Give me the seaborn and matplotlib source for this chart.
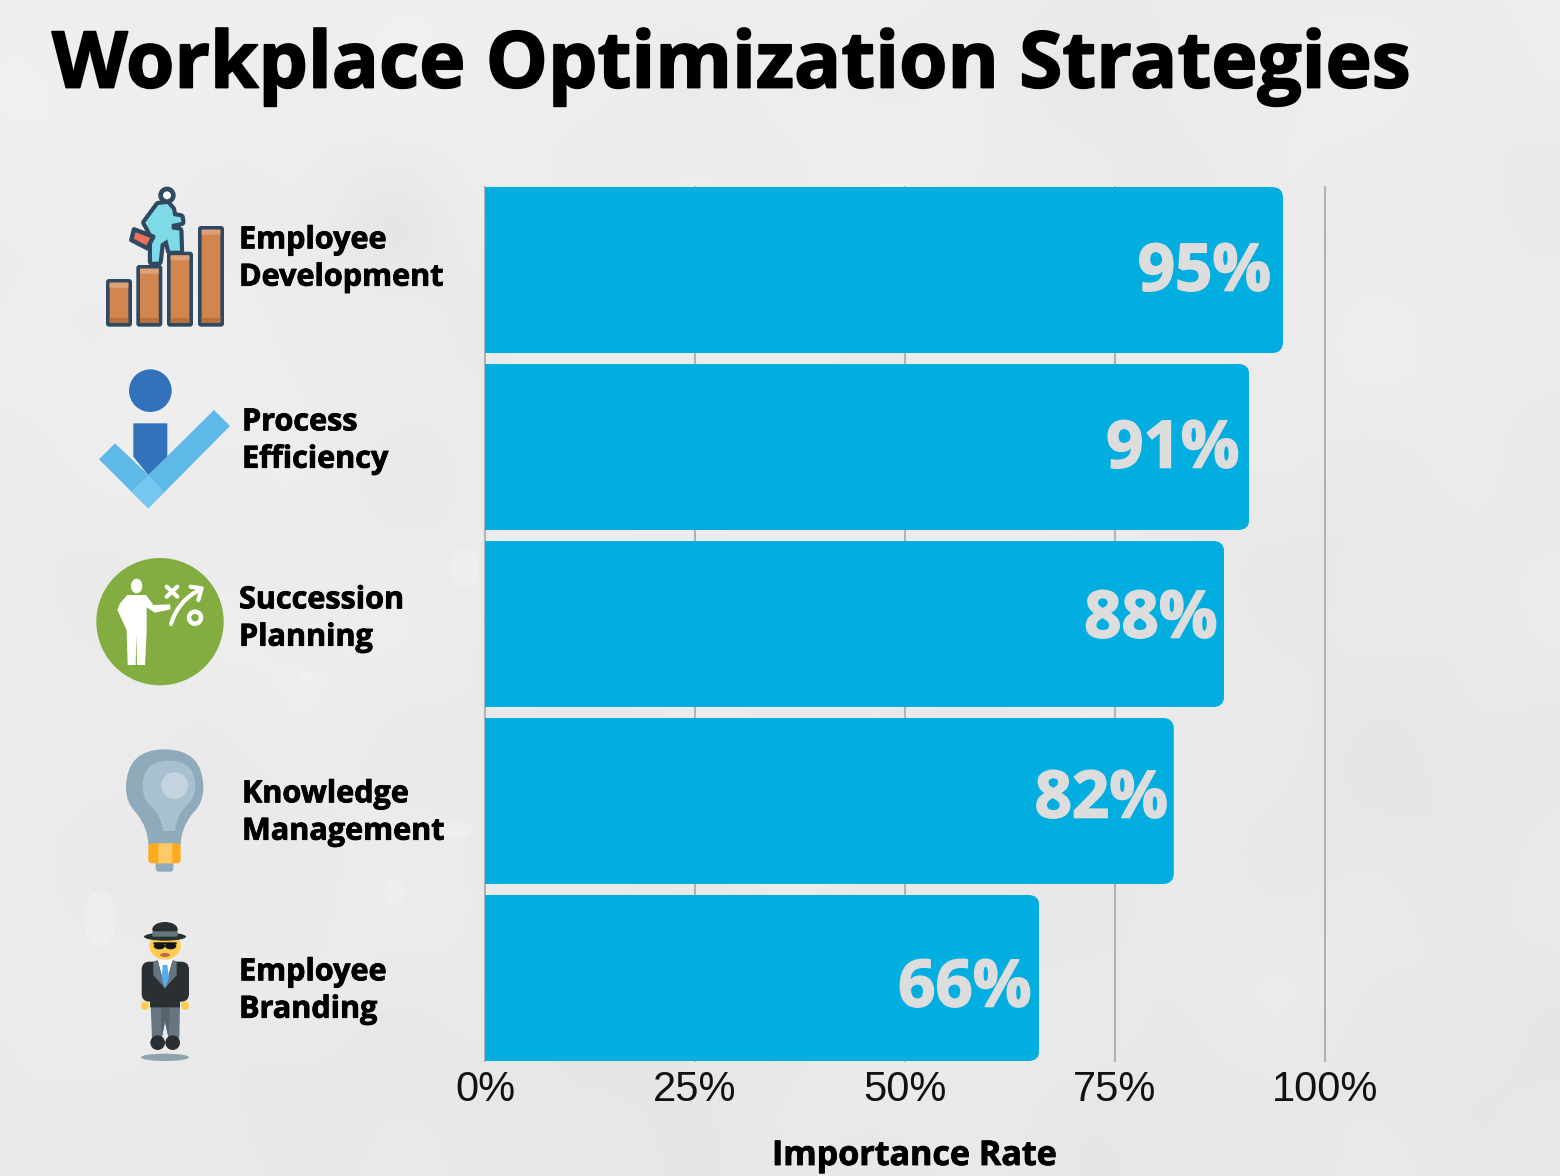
import numpy as np
import pandas as pd
import matplotlib
matplotlib.use("Agg")
import matplotlib.pyplot as plt
import matplotlib.patheffects as pe
from matplotlib.patches import Ellipse, FancyBboxPatch, PathPatch, Polygon
from matplotlib.path import Path
from matplotlib.transforms import IdentityTransform
import seaborn as sns

# Data
categories = ["Employee\nDevelopment", "Process\nEfficiency", "Succession\nPlanning",
              "Knowledge\nManagement", "Employee\nBranding"]
rates = [95, 91, 88, 82, 66]
ticks = [0, 25, 50, 75, 100]
title = "Workplace Optimization Strategies"
xlabel = "Importance Rate"

W, H = 1560, 1176
BAR_COLOR = "#02ADE0"

sns.set_theme(style="white")
plt.rcParams["font.family"] = ["Open Sans", "DejaVu Sans"]

fig = plt.figure(figsize=(W / 100, H / 100), dpi=100)

# Paper-like background
bg = fig.add_axes([0, 0, 1, 1], zorder=0)
yy, xx = np.mgrid[0:H:4, 0:W:4]
tex = (238 - 7 * (0.3 * xx / W + 0.7 * yy / H)
       + 1.5 * np.sin(xx / 95 + yy / 140) * np.sin(yy / 70 - xx / 210)
       + 0.8 * np.sin(xx / 31 + 1.3) * np.sin(yy / 43))
# a few soft darker stains
for cx, cy, s, d in [(480, 300, 60, 3), (390, 230, 40, 5), (1150, 90, 90, 3), (600, 1100, 120, 3), (1400, 700, 120, 2)]:
    tex -= d * np.exp(-((xx - cx) ** 2 + (yy - cy) ** 2) / (2 * s ** 2))
bg.imshow(tex, cmap="gray", vmin=0, vmax=255, extent=[0, W, H, 0], aspect="auto", interpolation="bilinear")
for x, y, rx, ry in [(465, 568, 14, 20), (456, 830, 16, 8), (100, 918, 16, 28), (395, 892, 10, 12), (306, 677, 6, 4)]:
    bg.add_patch(Ellipse((x, y), 2 * rx, 2 * ry, fc="#F4F4F4", ec="none", alpha=0.45))
bg.set_xlim(0, W)
bg.set_ylim(H, 0)
bg.axis("off")

# Main chart
ax = fig.add_axes([485 / W, 1 - 1061 / H, 840 / W, 874 / H], zorder=1)
ax.patch.set_alpha(0)
df = pd.DataFrame({"category": categories, "rate": rates})
sns.barplot(data=df, x="rate", y="category", orient="h", color=BAR_COLOR, saturation=1, width=0.938, linewidth=0,
            ax=ax)
ax.set_xlim(0, 100)
ax.set_ylim(len(rates) - 0.5 - 0.031, -0.469)
ax.set_xticks(ticks)
ax.set_xticklabels([f"{t}%" for t in ticks], fontsize=30, family="Liberation Sans", color="#111111")
ax.set_yticks([])
ax.set_xlabel("")
ax.set_ylabel("")
ax.tick_params(axis="x", length=0, pad=6.5)
ax.set_axisbelow(True)
ax.grid(axis="x", color="#b2b2b2", lw=1.5)
for gl in ax.get_xgridlines():
    gl.set_clip_on(False)
sns.despine(ax=ax, left=True, bottom=True)

# rounded right corners
fig.canvas.draw()
for bar in ax.patches:
    e = bar.get_window_extent()
    clip = FancyBboxPatch((e.x0 - 30, e.y0), e.width + 30, e.height, boxstyle="round,pad=0,rounding_size=11",
                          transform=IdentityTransform())
    bar.set_clip_path(clip)


def heavy(w):
    return [pe.withStroke(linewidth=w, foreground="black")]


# value labels, nudged by hand
nudge_x = [-12, -10, -7, -6, -8]
nudge_y = [-4, -4, 3, 0, -12]
for i, r in enumerate(rates):
    t = ax.annotate(f"{r}%", xy=(r, i), xytext=(nudge_x[i] * 0.72, nudge_y[i] * 0.72), textcoords="offset points",
                    ha="right", va="center", fontsize=47, fontweight="bold", color="#DDDDDD")
    t.set_path_effects([pe.withStroke(linewidth=1.2, foreground="#DDDDDD")])

# Overlay in pixel coordinates for texts and icons
ov = fig.add_axes([0, 0, 1, 1], zorder=2)
ov.set_xlim(0, W)
ov.set_ylim(H, 0)
ov.axis("off")

t = ov.text(52, 67, title, fontsize=56.3, fontweight="bold", color="black", ha="left", va="center")
t.set_path_effects(heavy(1.3))
t = ov.text(914, 1156, xlabel, fontsize=24.5, fontweight="bold", color="black", ha="center", va="center")
t.set_path_effects(heavy(0.6))

label_x = [239, 242, 239, 242, 239]
label_y = [259, 441, 619, 813, 991]
for c, x, y in zip(categories, label_x, label_y):
    t = ov.text(x, y, c, fontsize=22, fontweight="bold", color="black", ha="left", va="center", linespacing=1.32)
    t.set_path_effects(heavy(0.6))


def poly(pts, ox, oy, color, **kw):
    ov.add_patch(Polygon([(ox + a / 3, oy + b / 3) for a, b in pts], closed=True, fc=color, ec=kw.pop("ec", "none"), **kw))


def box(x0, y0, x1, y1, ox, oy, color, r=3, **kw):
    ov.add_patch(FancyBboxPatch((ox + x0 / 3, oy + y0 / 3), (x1 - x0) / 3, (y1 - y0) / 3,
                                boxstyle=f"round,pad=0,rounding_size={r}", fc=color, ec=kw.pop("ec", "none"), **kw))


def ell(cx, cy, rx, ry, ox, oy, color, **kw):
    ov.add_patch(Ellipse((ox + cx / 3, oy + cy / 3), 2 * rx / 3, 2 * ry / 3, fc=color, ec=kw.pop("ec", "none"), **kw))


def curve(pts, codes, ox, oy, color, **kw):
    ov.add_patch(PathPatch(Path([(ox + a / 3, oy + b / 3) for a, b in pts], codes), fc=color,
                           ec=kw.pop("ec", "none"), **kw))


M, C3, L = Path.MOVETO, Path.CURVE3, Path.LINETO

# icon 1: stairs of bars and walker
ox, oy = 90, 180
DARK = "#2F4A60"
for x0, y0 in [(48, 297), (139, 255), (231, 215), (324, 138)]:
    box(x0, y0, x0 + 78, 440, ox, oy, DARK, r=3)
    box(x0 + 11, y0 + 11, x0 + 67, 429, ox, oy, "#D3854E", r=0.5)
    box(x0 + 11, y0 + 11, x0 + 67, y0 + 26, ox, oy, "#DDA27A", r=0.5)
    box(x0 + 11, 414, x0 + 67, 429, ox, oy, "#B8703F", r=0.5)
walker = [(205, 75), (232, 72), (246, 88), (250, 108), (272, 112), (274, 126), (245, 132), (245, 148), (268, 152),
          (270, 212), (240, 212), (232, 178), (212, 192), (206, 245), (186, 245), (186, 165), (172, 138), (166, 128)]
poly(walker, ox, oy, DARK, ec=DARK, lw=6, joinstyle="round")
poly(walker, ox, oy, "#7EDAE6")
poly([(132, 148), (190, 170), (172, 205), (124, 180)], ox, oy, "#EF6F5A", ec=DARK, lw=3.2, joinstyle="round")
ell(231, 46, 19, 19, ox, oy, "white", ec=DARK, lw=3.4)

# icon 2: person with check mark
ell(181, 632, 64, 64, ox, oy, "#3272BA")
poly([(130, 730), (232, 730), (232, 830), (175, 885), (130, 830)], ox, oy, "#3272BA")
poly([(27, 838), (75, 790), (175, 885), (372, 690), (420, 738), (175, 985)], ox, oy, "#5FB9E8")
poly([(125, 935), (175, 885), (222, 935), (175, 985)], ox, oy, "#76C7EF")

# icon 3: manager in green disc
ox, oy = 90, 550
ell(210, 215, 191, 191, ox, oy, "#84AD41")
ell(140, 108, 17, 22, ox, oy, "white")
poly([(112, 135), (168, 135), (190, 165), (240, 163), (242, 178), (195, 188), (170, 172), (170, 245), (165, 345),
      (141, 345), (139, 250), (137, 345), (113, 345), (110, 240), (82, 180), (90, 160)], ox, oy, "white")
for a, b, c, d in [(230, 110, 262, 140), (262, 110, 230, 140)]:
    ov.plot([ox + a / 3, ox + c / 3], [oy + b / 3, oy + d / 3], color="white", lw=3, solid_capstyle="round")
ov.add_patch(PathPatch(Path([(ox + 243 / 3, oy + 222 / 3), (ox + 265 / 3, oy + 150 / 3), (ox + 332 / 3, oy + 118 / 3)],
                            [M, C3, C3]), fc="none", ec="white", lw=3, capstyle="round"))
ov.plot([ox + 302 / 3, ox + 335 / 3, ox + 325 / 3], [oy + 110 / 3, oy + 115 / 3, oy + 150 / 3], color="white", lw=3,
        solid_capstyle="round", solid_joinstyle="round")
ell(315, 203, 18, 18, ox, oy, "none", ec="white", lw=3.2)

# icon 4: bulb
bulb = [(175, 885), (175, 835), (140, 790), (108, 760), (108, 715), (108, 598), (224, 598), (340, 598), (340, 715),
        (340, 760), (308, 790), (272, 835), (272, 885), (175, 885)]
codes = [M, C3, C3, C3, C3, C3, C3, C3, C3, C3, C3, C3, C3, L]
curve(bulb, codes, ox, oy, "#8FAABB")
inner = [(220, 843), (215, 800), (180, 765), (158, 745), (158, 710), (158, 632), (237, 632), (316, 632), (316, 710),
         (316, 745), (290, 765), (258, 800), (255, 843), (220, 843)]
curve(inner, codes, ox, oy, "#A8C1D0")
ell(254, 707, 40, 40, ox, oy, "#C3D4DE")
box(197, 930, 250, 965, ox, oy, "#8FAABB", r=3)
box(175, 880, 272, 940, ox, oy, "#FCAA1E", r=4)
box(205, 880, 247, 940, ox, oy, "#FFC966", r=0.1)

# icon 5: spy
ox, oy = 120, 910
ell(135, 442, 72, 11, ox, oy, "#8FA3AD")
poly([(92, 285), (180, 285), (178, 385), (146, 385), (135, 335), (125, 385), (96, 385)], ox, oy, "#66757F")
poly([(122, 285), (150, 285), (146, 385), (135, 335), (125, 385)], ox, oy, "#58646D")
ell(113, 398, 22, 22, ox, oy, "#292F33")
ell(158, 398, 22, 22, ox, oy, "#292F33")
ell(75, 287, 12, 13, ox, oy, "#FFCC4D")
ell(195, 287, 12, 13, ox, oy, "#FFCC4D")
box(65, 155, 207, 275, ox, oy, "#292F33", r=8)
box(90, 200, 180, 292, ox, oy, "#292F33", r=0.5)
ell(135, 108, 47, 40, ox, oy, "#FFCC4D")
poly([(113, 150), (158, 150), (135, 235)], ox, oy, "white")
poly([(100, 155), (113, 150), (135, 235), (100, 195)], ox, oy, "#66757F")
poly([(170, 155), (158, 150), (135, 235), (170, 195)], ox, oy, "#66757F")
poly([(128, 165), (142, 165), (147, 205), (135, 235), (125, 205)], ox, oy, "#55ACEE")
ell(118, 108, 17, 10, ox, oy, "#14171A")
ell(152, 108, 17, 10, ox, oy, "#14171A")
box(100, 97, 170, 103, ox, oy, "#14171A", r=0.5)
ell(135, 135, 15, 6, ox, oy, "#C1694F")
ell(135, 80, 63, 12, ox, oy, "#292F33")
ell(135, 58, 38, 22, ox, oy, "#292F33")
box(97, 64, 173, 80, ox, oy, "#66757F", r=1)

fig.savefig("out.png", dpi=100)
